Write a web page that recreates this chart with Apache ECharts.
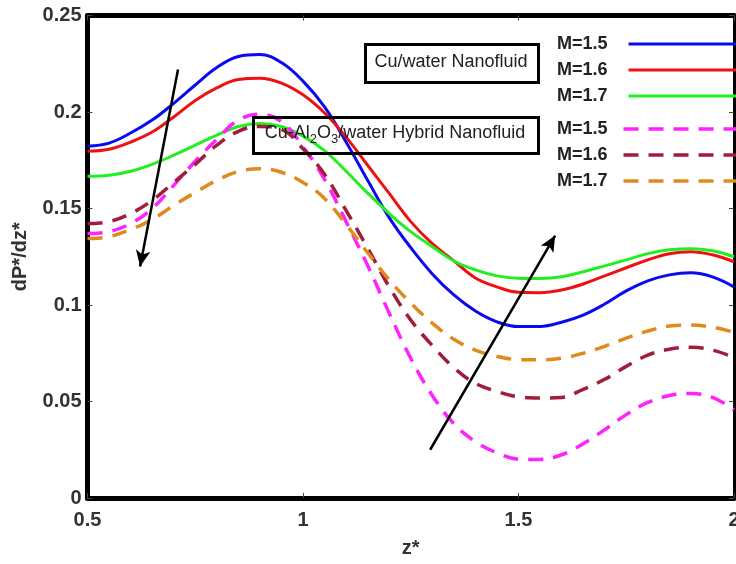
<!DOCTYPE html>
<html>
<head>
<meta charset="utf-8">
<script src="https://cdn.jsdelivr.net/npm/echarts@6/dist/echarts.min.js"></script>
<style>
  html, body { margin: 0; padding: 0; background: #fff; overflow: hidden; }
  #chart { width: 736px; height: 564px; }
</style>
</head>
<body>
<div id="chart"></div>
<script>
// Axial coordinate z*
const zStar = [0.50, 0.55, 0.60, 0.65, 0.70, 0.75, 0.80, 0.85, 0.90, 0.95,
               1.00, 1.05, 1.10, 1.15, 1.20, 1.25, 1.30, 1.35, 1.40, 1.45,
               1.50, 1.55, 1.60, 1.65, 1.70, 1.75, 1.80, 1.85, 1.90, 1.95, 2.00];

// Pressure gradient dP*/dz*, Cu/water nanofluid
const cuM15 = [0.1823, 0.1839, 0.1891, 0.1958, 0.2045, 0.2140, 0.2230, 0.2288, 0.2298, 0.2256,
               0.2160, 0.2026, 0.1845, 0.1646, 0.1453, 0.1297, 0.1161, 0.1052, 0.0969, 0.0913,
               0.0888, 0.0889, 0.0911, 0.0948, 0.1005, 0.1073, 0.1125, 0.1156, 0.1167, 0.1146, 0.1094];
const cuM16 = [0.1797, 0.1807, 0.1844, 0.1896, 0.1974, 0.2060, 0.2125, 0.2168, 0.2175, 0.2150,
               0.2089, 0.1995, 0.1870, 0.1724, 0.1578, 0.1432, 0.1318, 0.1229, 0.1140, 0.1094,
               0.1066, 0.1064, 0.1078, 0.1109, 0.1151, 0.1193, 0.1234, 0.1266, 0.1276, 0.1260, 0.1224];
const cuM17 = [0.1667, 0.1672, 0.1693, 0.1729, 0.1776, 0.1828, 0.1880, 0.1925, 0.1941, 0.1925,
               0.1875, 0.1800, 0.1693, 0.1580, 0.1474, 0.1380, 0.1302, 0.1228, 0.1182, 0.1151,
               0.1139, 0.1137, 0.1146, 0.1172, 0.1203, 0.1234, 0.1266, 0.1286, 0.1292, 0.1281, 0.1250];

// Pressure gradient dP*/dz*, Cu-Al2O3/water hybrid nanofluid
const hyM15 = [0.1370, 0.1380, 0.1422, 0.1500, 0.1620, 0.1745, 0.1859, 0.1958, 0.1988, 0.1950,
               0.1820, 0.1651, 0.1432, 0.1205, 0.0958, 0.0724, 0.0531, 0.0385, 0.0292, 0.0234,
               0.0201, 0.0200, 0.0224, 0.0281, 0.0354, 0.0432, 0.0495, 0.0531, 0.0542, 0.0521, 0.0458];
const hyM16 = [0.1422, 0.1432, 0.1474, 0.1542, 0.1635, 0.1729, 0.1828, 0.1900, 0.1925, 0.1910,
               0.1810, 0.1677, 0.1490, 0.1295, 0.1094, 0.0922, 0.0790, 0.0675, 0.0594, 0.0552,
               0.0524, 0.0518, 0.0521, 0.0563, 0.0615, 0.0682, 0.0740, 0.0771, 0.0781, 0.0766, 0.0729];
const hyM17 = [0.1344, 0.1354, 0.1391, 0.1443, 0.1516, 0.1583, 0.1646, 0.1692, 0.1706, 0.1688,
               0.1635, 0.1552, 0.1417, 0.1271, 0.1130, 0.1010, 0.0906, 0.0822, 0.0766, 0.0734,
               0.0717, 0.0716, 0.0724, 0.0750, 0.0786, 0.0828, 0.0865, 0.0891, 0.0896, 0.0885, 0.0859];

const legendNames = ['M=1.5', 'M=1.6', 'M=1.7'];
const xTicks = [0.5, 1, 1.5, 2];
const yTicks = [0, 0.05, 0.1, 0.15, 0.2, 0.25];

// Trend arrows (data coordinates: tail, head)
const arrowDown = [[0.710, 0.222], [0.622, 0.120]];
const arrowUp = [[1.295, 0.025], [1.585, 0.136]];

const FONT = '"Liberation Sans", Arial, Helvetica, sans-serif';

function pairs(ys) { return zStar.map((z, i) => [z, ys[i]]); }

function solid(name, color, ys, extra) {
  return Object.assign({
    name: name, type: 'line', smooth: 0.4, symbol: 'none', data: pairs(ys),
    lineStyle: { color: color, width: 3 }, itemStyle: { color: color },
    z: 3
  }, extra || {});
}
function dashed(name, color, ys) {
  return {
    name: name, type: 'line', smooth: 0.4, symbol: 'none', data: pairs(ys),
    lineStyle: { color: color, width: 3.5, type: [15, 10] }, itemStyle: { color: color },
    z: 3
  };
}

const arrowLines = {
  silent: true, symbol: ['none', 'arrow'], symbolSize: [11, 16],
  label: { show: false },
  lineStyle: { color: '#000', width: 2.5, type: 'solid' },
  data: [
    [{ coord: arrowDown[0] }, { coord: arrowDown[1] }],
    [{ coord: arrowUp[0] }, { coord: arrowUp[1] }]
  ]
};

const series = [
  solid('cu15', '#0a0aee', cuM15, { markLine: arrowLines }),
  solid('cu16', '#ee1111', cuM16),
  solid('cu17', '#22ee22', cuM17),
  dashed('hy15', '#ff22ff', hyM15),
  dashed('hy16', '#a01e3c', hyM16),
  dashed('hy17', '#e08a1e', hyM17)
];

const legendText = { cu15: legendNames[0], cu16: legendNames[1], cu17: legendNames[2],
                     hy15: legendNames[0], hy16: legendNames[1], hy17: legendNames[2] };

const axisTick = { show: true, inside: true, length: 5, lineStyle: { color: '#444', width: 1 } };

function legendBlock(names, top, gapRight, iconWidth, lineWidth) {
  return {
    data: names, orient: 'vertical', left: 557, top: top, padding: 0,
    align: 'right', itemWidth: iconWidth, itemHeight: 14, itemGap: 8,
    itemStyle: { color: 'rgba(0,0,0,0)', borderColor: 'rgba(0,0,0,0)', borderWidth: 0 },
    lineStyle: { width: lineWidth },
    formatter: n => '{t|' + legendText[n] + '}',
    textStyle: {
      rich: { t: { fontFamily: FONT, fontWeight: 'bold', fontSize: 18, color: '#222',
                   padding: [0, gapRight, 0, 0] } }
    }
  };
}

const chart = echarts.init(document.getElementById('chart'), null, { renderer: 'canvas' });
chart.setOption({
  backgroundColor: '#fff',
  animation: false,
  grid: { left: 87.5, right: 2, top: 15.5, bottom: 66, containLabel: false, outerBoundsMode: 'none' },
  xAxis: [{
    type: 'value', min: xTicks[0], max: xTicks[xTicks.length - 1], interval: 0.5,
    name: 'z*', nameLocation: 'middle', nameGap: 40,
    nameTextStyle: { fontFamily: FONT, fontWeight: 'bold', fontSize: 20, color: '#333' },
    axisLine: { show: true, onZero: false, lineStyle: { color: '#000', width: 5 } },
    axisTick: axisTick, splitLine: { show: false },
    axisLabel: { fontFamily: FONT, fontWeight: 'bold', fontSize: 20, color: '#333', margin: 12 }
  }, {
    type: 'value', position: 'top', min: xTicks[0], max: xTicks[xTicks.length - 1], interval: 0.5,
    axisLine: { show: true, onZero: false, lineStyle: { color: '#000', width: 5 } },
    axisTick: axisTick, axisLabel: { show: false }, splitLine: { show: false }
  }],
  yAxis: [{
    type: 'value', min: yTicks[0], max: yTicks[yTicks.length - 1], interval: 0.05,
    name: 'dP*/dz*', nameLocation: 'middle', nameGap: 57, nameRotate: 90,
    nameTextStyle: { fontFamily: FONT, fontWeight: 'bold', fontSize: 20, color: '#333' },
    axisLine: { show: true, onZero: false, lineStyle: { color: '#000', width: 5 } },
    axisTick: axisTick, splitLine: { show: false },
    axisLabel: { fontFamily: FONT, fontWeight: 'bold', fontSize: 20, color: '#333', margin: 6 }
  }, {
    type: 'value', position: 'right', min: yTicks[0], max: yTicks[yTicks.length - 1], interval: 0.05,
    axisLine: { show: true, onZero: false, lineStyle: { color: '#000', width: 3 } },
    axisTick: axisTick, axisLabel: { show: false }, splitLine: { show: false }
  }],
  legend: [
    legendBlock(['cu15', 'cu16', 'cu17'], 35, 16, 112, 3),
    legendBlock(['hy15', 'hy16', 'hy17'], 120, 11, 118, 3.5)
  ],
  graphic: [{
    type: 'rect', left: 364, top: 43, z: 10,
    shape: { width: 173, height: 38 },
    style: { fill: 'rgba(0,0,0,0)', stroke: '#000', lineWidth: 3 }
  }, {
    type: 'text', x: 451, y: 62, z: 11,
    style: { text: 'Cu/water Nanofluid', font: '18px ' + FONT, fill: '#222',
             align: 'center', verticalAlign: 'middle' }
  }, {
    type: 'rect', left: 252, top: 116, z: 10,
    shape: { width: 285, height: 36 },
    style: { fill: 'rgba(0,0,0,0)', stroke: '#000', lineWidth: 3 }
  }, {
    type: 'text', x: 395, y: 133, z: 11,
    style: {
      text: '{n|Cu-Al}{s|2}{n|O}{s|3}{n|/water Hybrid Nanofluid}',
      align: 'center', verticalAlign: 'middle',
      rich: {
        n: { fontFamily: FONT, fontSize: 18, fill: '#222', lineHeight: 22 },
        s: { fontFamily: FONT, fontSize: 13, fill: '#222', lineHeight: 22, padding: [12, 0, 0, 0] }
      }
    }
  }],
  series: series
});
</script>
</body>
</html>
